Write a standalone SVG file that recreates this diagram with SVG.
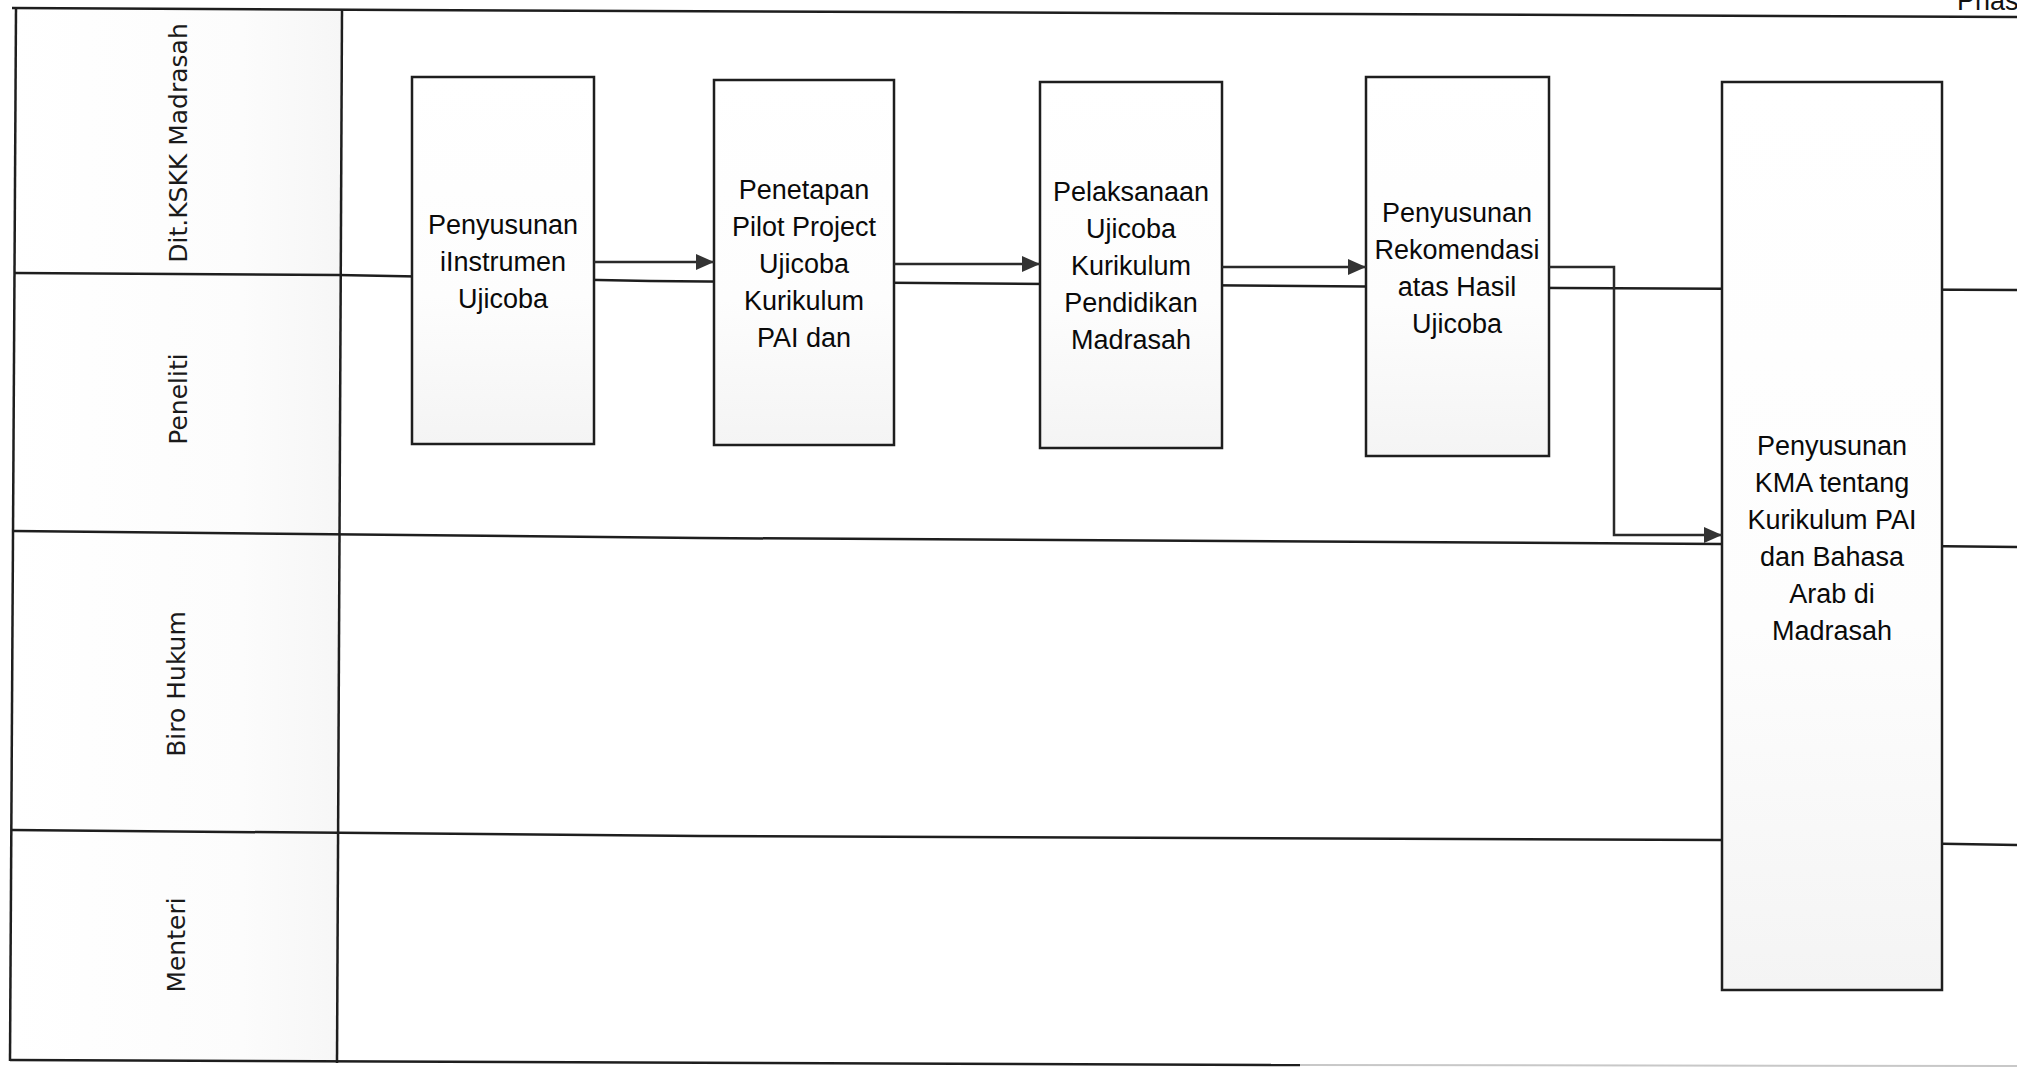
<svg xmlns="http://www.w3.org/2000/svg" width="2017" height="1067" viewBox="0 0 2017 1067">
<style>
.frame{fill:none;stroke:#1e1e1e;stroke-width:2.5}
.box{fill:url(#boxg);stroke:#1e1e1e;stroke-width:2.5}
.conn{fill:none;stroke:#2a2a2a;stroke-width:2.5}
.lbl{font-family:"DejaVu Sans",Verdana,sans-serif;font-size:25px;fill:#1a1a1a}
.txt{font-family:"Liberation Sans",Arial,sans-serif;font-size:27px;fill:#0a0a0a;text-anchor:middle}
</style>
<defs>
<linearGradient id="boxg" x1="0" y1="0" x2="0" y2="1">
<stop offset="0" stop-color="#ffffff"/>
<stop offset="0.6" stop-color="#fdfdfd"/>
<stop offset="1" stop-color="#f4f4f4"/>
</linearGradient>
<linearGradient id="hdrg" x1="0" y1="0" x2="1" y2="0">
<stop offset="0" stop-color="#ffffff"/>
<stop offset="0.7" stop-color="#fcfcfc"/>
<stop offset="1" stop-color="#f6f6f6"/>
</linearGradient>
<marker id="arr" viewBox="0 0 18 16" refX="18" refY="8" markerWidth="18" markerHeight="16" markerUnits="userSpaceOnUse" orient="auto">
<path d="M0,0 L18,8 L0,16 Z" fill="#333"/>
</marker>
</defs>
<rect width="2017" height="1067" fill="#ffffff"/>
<g id="swimlanes">
<polygon points="16,9 342,11 337,1062 10,1060" fill="url(#hdrg)"/>
<polyline class="frame" points="12,8 400,10 1350,14 2017,17"/>
<line class="frame" x1="16" y1="8" x2="10" y2="1061"/>
<line class="frame" x1="342" y1="10" x2="337" y2="1063"/>
<polyline class="frame" points="15,273 338,275 650,281 1560,288 2017,290"/>
<polyline class="frame" points="14,531 700,538 1720,544 2017,547"/>
<polyline class="frame" points="12,830 700,836 1720,840 2017,845"/>
<polyline class="frame" points="10,1060 1300,1065"/>
<line x1="1300" y1="1065" x2="2017" y2="1066" stroke="#c8c8c8" stroke-width="2"/>
<text class="lbl" transform="translate(178,143) rotate(-90)" text-anchor="middle" dominant-baseline="central">Dit.KSKK Madrasah</text>
<text class="lbl" transform="translate(178,399) rotate(-90)" text-anchor="middle" dominant-baseline="central">Peneliti</text>
<text class="lbl" transform="translate(176,684) rotate(-90)" text-anchor="middle" dominant-baseline="central">Biro Hukum</text>
<text class="lbl" transform="translate(176,945) rotate(-90)" text-anchor="middle" dominant-baseline="central">Menteri</text>
<text x="1957" y="10" font-family="Liberation Sans, Arial, sans-serif" font-size="27" fill="#111">Phas</text>
</g>
<g id="node1">
<rect class="box" x="412" y="77" width="182" height="367"/>
<text class="txt" x="503" y="234">Penyusunan</text>
<text class="txt" x="503" y="271">iInstrumen</text>
<text class="txt" x="503" y="308">Ujicoba</text>
</g>
<g id="node2">
<rect class="box" x="714" y="80" width="180" height="365"/>
<text class="txt" x="804" y="199">Penetapan</text>
<text class="txt" x="804" y="236">Pilot Project</text>
<text class="txt" x="804" y="273">Ujicoba</text>
<text class="txt" x="804" y="310">Kurikulum</text>
<text class="txt" x="804" y="347">PAI dan</text>
</g>
<g id="node3">
<rect class="box" x="1040" y="82" width="182" height="366"/>
<text class="txt" x="1131" y="201">Pelaksanaan</text>
<text class="txt" x="1131" y="238">Ujicoba</text>
<text class="txt" x="1131" y="275">Kurikulum</text>
<text class="txt" x="1131" y="312">Pendidikan</text>
<text class="txt" x="1131" y="349">Madrasah</text>
</g>
<g id="node4">
<rect class="box" x="1366" y="77" width="183" height="379"/>
<text class="txt" x="1457" y="222">Penyusunan</text>
<text class="txt" x="1457" y="259">Rekomendasi</text>
<text class="txt" x="1457" y="296">atas Hasil</text>
<text class="txt" x="1457" y="333">Ujicoba</text>
</g>
<g id="node5">
<rect class="box" x="1722" y="82" width="220" height="908"/>
<text class="txt" x="1832" y="455">Penyusunan</text>
<text class="txt" x="1832" y="492">KMA tentang</text>
<text class="txt" x="1832" y="529">Kurikulum PAI</text>
<text class="txt" x="1832" y="566">dan Bahasa</text>
<text class="txt" x="1832" y="603">Arab di</text>
<text class="txt" x="1832" y="640">Madrasah</text>
</g>
<g id="connectors">
<line class="conn" x1="594" y1="262" x2="714" y2="262" marker-end="url(#arr)"/>
<line class="conn" x1="894" y1="264" x2="1040" y2="264" marker-end="url(#arr)"/>
<line class="conn" x1="1222" y1="267" x2="1366" y2="267" marker-end="url(#arr)"/>
<polyline class="conn" points="1549,267 1614,267 1614,535 1722,535" marker-end="url(#arr)"/>
</g>
</svg>
